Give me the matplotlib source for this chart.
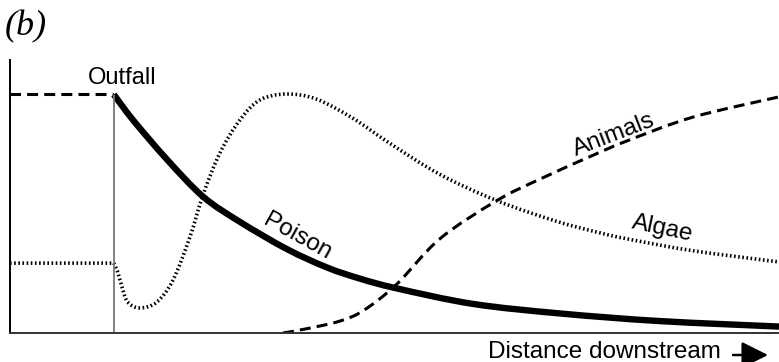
import matplotlib.pyplot as plt
from matplotlib.path import Path
from matplotlib.patches import PathPatch

# Distance downstream (0 = left edge, 1 = right edge) and relative levels
outfall_x = 0.135

poison_x = [0.135, 0.160, 0.204, 0.251, 0.299, 0.360, 0.412, 0.455, 0.503,
            0.602, 0.715, 0.845, 1.000]
poison_y = [1.000, 0.893, 0.728, 0.572, 0.466, 0.352, 0.275, 0.228, 0.187,
            0.122, 0.082, 0.050, 0.027]

algae_up_x = [0.000, 0.135]
algae_up_y = [0.293, 0.293]
algae_x = [0.135, 0.140, 0.146, 0.153, 0.169, 0.191, 0.212, 0.234,
           0.251, 0.273, 0.299, 0.325, 0.360, 0.399, 0.446, 0.494, 0.559,
           0.633, 0.711, 0.767, 0.802, 0.888, 1.000]
algae_y = [0.293, 0.256, 0.189, 0.130, 0.105, 0.130, 0.222, 0.403,
           0.579, 0.755, 0.893, 0.977, 1.002, 0.980, 0.900, 0.795, 0.665,
           0.555, 0.468, 0.420, 0.395, 0.345, 0.298]

animals_up_x = [0.000, 0.135]
animals_up_y = [1.000, 1.000]
animals_x = [0.355, 0.386, 0.429, 0.460, 0.503, 0.559, 0.633, 0.689, 0.758,
             0.802, 0.888, 1.000]
animals_y = [0.000, 0.018, 0.050, 0.095, 0.205, 0.395, 0.555, 0.645, 0.745,
             0.805, 0.905, 0.990]


def smooth_path(xs, ys):
    """Catmull-Rom curve through the given points, as cubic Bezier segments."""
    pts = list(zip(xs, ys))
    verts = [pts[0]]
    codes = [Path.MOVETO]
    for i in range(len(pts) - 1):
        p0 = pts[i - 1] if i > 0 else pts[i]
        p1, p2 = pts[i], pts[i + 1]
        p3 = pts[i + 2] if i + 2 < len(pts) else pts[i + 1]
        c1 = (p1[0] + (p2[0] - p0[0]) / 6, p1[1] + (p2[1] - p0[1]) / 6)
        c2 = (p2[0] - (p3[0] - p1[0]) / 6, p2[1] - (p3[1] - p1[1]) / 6)
        verts += [c1, c2, p2]
        codes += [Path.CURVE4] * 3
    return Path(verts, codes)


def draw_curve(ax, xs, ys, lw, ls, cap='butt'):
    patch = PathPatch(smooth_path(xs, ys), fill=False, edgecolor='black',
                      lw=lw, linestyle=ls, capstyle=cap, joinstyle='round')
    ax.add_patch(patch)


plt.rcParams['font.family'] = ['Liberation Sans', 'DejaVu Sans']

fig = plt.figure(figsize=(7.79, 3.62), dpi=100)
ax = fig.add_axes([10 / 779, 29 / 362, 769 / 779, 273 / 362])
ax.set_xlim(0, 1)
ax.set_ylim(0, 273 / 238.5)

ax.vlines(outfall_x, 0, 1.0, color='#777777', lw=1.3)

dotted = (0, (0.45, 0.7))
dashed = (0, (3.6, 2.0))
draw_curve(ax, poison_x, poison_y, 4.6, '-')
draw_curve(ax, algae_up_x, algae_up_y, 2.6, dotted)
draw_curve(ax, algae_x, algae_y, 2.6, dotted)
draw_curve(ax, animals_up_x, animals_up_y, 2.2, dashed)
draw_curve(ax, animals_x, animals_y, 2.2, dashed)

for side in ['top', 'right']:
    ax.spines[side].set_visible(False)
ax.spines['left'].set_linewidth(1.4)
ax.spines['bottom'].set_linewidth(1.4)
ax.spines['bottom'].set_color('#333333')
ax.set_xticks([])
ax.set_yticks([])

ax.text(0.146, 1.023, 'Outfall', fontsize=17, ha='center', va='bottom')
ax.text(0.373, 0.405, 'Poison', fontsize=17.5, ha='center', va='center',
        rotation=-29, rotation_mode='anchor')
ax.text(0.785, 0.830, 'Animals', fontsize=17.5, ha='center', va='center',
        rotation=21, rotation_mode='anchor')
ax.text(0.848, 0.436, 'Algae', fontsize=17.5, ha='center', va='center',
        rotation=-12, rotation_mode='anchor')

fig.text(0.006, 1 - 35 / 362, '(b)', fontsize=26, family='Liberation Serif',
         style='italic', va='baseline')
fig.text(721 / 779, 1 - 358 / 362, 'Distance downstream', fontsize=17.5,
         ha='right', va='baseline')
ax.annotate('', xy=(768 / 779, 1 - 355 / 362), xycoords='figure fraction',
            xytext=(733 / 779, 1 - 355 / 362), textcoords='figure fraction',
            arrowprops=dict(arrowstyle='-|>,head_length=0.9,head_width=0.45',
                            mutation_scale=18, color='black', lw=1.8,
                            shrinkA=0, shrinkB=0))

fig.savefig('out.png', dpi=100)
